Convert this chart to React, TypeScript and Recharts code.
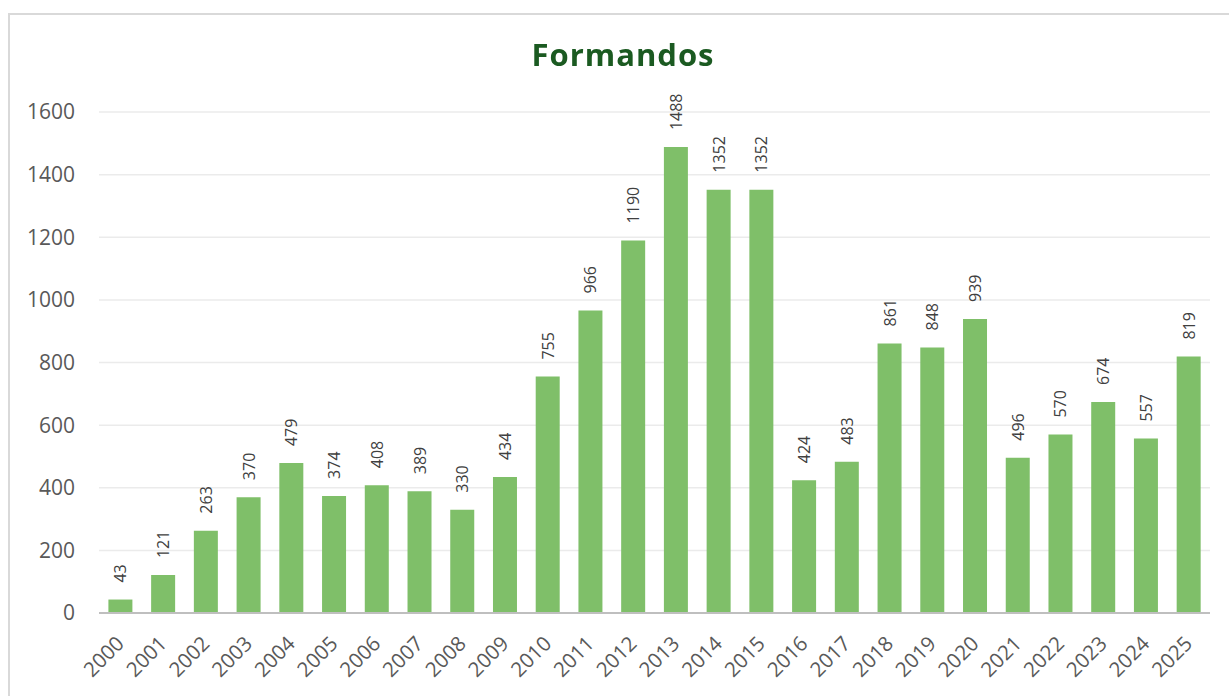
import React from "react";
import { BarChart, Bar, XAxis, YAxis, CartesianGrid, LabelList } from "recharts";

const years = ["2000","2001","2002","2003","2004","2005","2006","2007","2008","2009","2010","2011","2012","2013","2014","2015","2016","2017","2018","2019","2020","2021","2022","2023","2024","2025"];
const formandos = [43,121,263,370,479,374,408,389,330,434,755,966,1190,1488,1352,1352,424,483,861,848,939,496,570,674,557,819];
const yTicks = [0,200,400,600,800,1000,1200,1400,1600];

const data = years.map((y, i) => ({ year: y, value: formandos[i] }));

const FONT = "'Open Sans', 'DejaVu Sans', sans-serif";

const XTick = (props: any) => {
  const { x, y, payload } = props;
  const ax = x + 5;
  const ay = y + 24;
  return (
    <text
      x={ax}
      y={ay}
      transform={`rotate(-45, ${ax}, ${ay})`}
      textAnchor="end"
      fill="#595959"
      fontSize={20.5}
      fontFamily={FONT}
    >
      {payload.value}
    </text>
  );
};

const BarLabel = (props: any) => {
  const { x, y, width, value } = props;
  const cx = x + width / 2;
  const cy = y - 17;
  return (
    <text
      x={cx}
      y={cy}
      transform={`rotate(-90, ${cx}, ${cy})`}
      textAnchor="start"
      dominantBaseline="central"
      fill="#404040"
      fontSize={16}
      fontFamily={FONT}
    >
      {value}
    </text>
  );
};

export default function App() {
  return (
    <div>
      <div
        style={{
          position: "fixed",
          left: 8,
          top: 13,
          width: 1240,
          height: 720,
          border: "2px solid #d9d9d9",
          background: "#fff",
        }}
      />
      <div style={{ position: "fixed", left: 0, top: 0 }}>
        <div
          style={{
            position: "absolute",
            left: 0,
            top: 33,
            width: 1246,
            textAlign: "center",
            fontFamily: FONT,
            fontWeight: 700,
            fontSize: 31,
            letterSpacing: 1,
            color: "#1B5A21",
            zIndex: 2,
          }}
        >
          Formandos
        </div>
        <BarChart
          width={1229}
          height={696}
          data={data}
          margin={{ top: 112, right: 19, bottom: 0, left: 0 }}
          barCategoryGap="22%"
        >
          <CartesianGrid vertical={false} stroke="#ebebeb" strokeWidth={1.5} />
          <XAxis
            dataKey="year"
            interval={0}
            height={83}
            tickLine={false}
            axisLine={{ stroke: "#bfbfbf", strokeWidth: 2 }}
            tick={<XTick />}
          />
          <YAxis
            width={99}
            domain={[0, 1600]}
            ticks={yTicks}
            axisLine={false}
            tickLine={false}
            tickMargin={18}
            tick={{ fill: "#595959", fontSize: 21, fontFamily: FONT }}
          />
          <Bar dataKey="value" fill="#7FBF69" isAnimationActive={false}>
            <LabelList dataKey="value" content={<BarLabel />} />
          </Bar>
        </BarChart>
      </div>
    </div>
  );
}
